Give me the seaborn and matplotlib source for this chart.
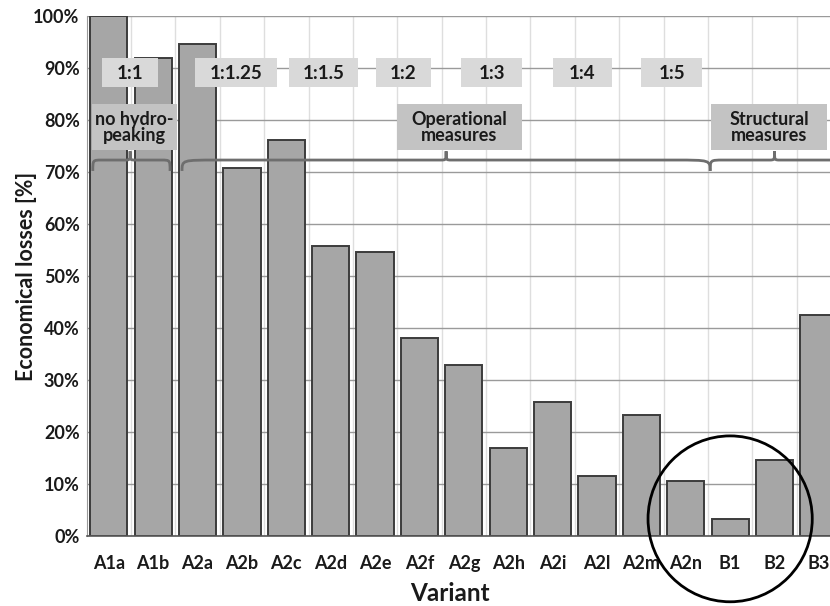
import numpy as np
import pandas as pd
import matplotlib
matplotlib.use("Agg")
import matplotlib.pyplot as plt
import seaborn as sns
from matplotlib.patches import Rectangle, Ellipse, PathPatch
from matplotlib.path import Path

# ---- data ----
variants = ["A1a", "A1b", "A2a", "A2b", "A2c", "A2d", "A2e", "A2f", "A2g",
            "A2h", "A2i", "A2l", "A2m", "A2n", "B1", "B2", "B3"]
losses = [100.0, 91.9, 94.6, 70.8, 76.2, 55.8, 54.6, 38.1, 32.9,
          16.9, 25.8, 11.6, 23.3, 10.6, 3.2, 14.6, 42.5]
yticks = [0, 10, 20, 30, 40, 50, 60, 70, 80, 90, 100]
ytick_labels = [f"{v}%" for v in yticks]

ratio_labels = ["1:1", "1:1.25", "1:1.5", "1:2", "1:3", "1:4", "1:5"]
ratio_centers = [0.48, 2.87, 4.83, 6.64, 8.63, 10.67, 12.68]
ratio_widths = [1.26, 1.85, 1.55, 1.24, 1.37, 1.33, 1.38]

group_labels = ["no hydro-\npeaking", "Operational\nmeasures", "Structural\nmeasures"]
group_box_x = [(-0.38, 1.54), (6.49, 9.31), (13.57, 16.18)]
brace_spans = [(-0.36, 1.38, 0.48, 0.2), (1.65, 13.55, 7.6, 0.8), (13.55, 16.6, 15.0, 0.3)]

FONT = ["Lato", "DejaVu Sans"]

df = pd.DataFrame({"Variant": variants, "Loss": losses})

sns.set_style("white")
plt.rcParams["font.family"] = FONT
plt.rcParams["font.weight"] = "bold"

fig = plt.figure(figsize=(8.3, 6.06), dpi=100)
ax = fig.add_axes([86.6 / 830, 70 / 606, 754.5 / 830, 520 / 606])

sns.barplot(data=df, x="Variant", y="Loss", color="#a6a6a6", saturation=1,
            edgecolor="#3c3c3c", linewidth=1.4, width=0.84, ax=ax, zorder=2)

ax.set_xlim(-0.5, len(variants) - 0.5)
ax.set_ylim(0, 100)
ax.set_yticks(yticks)
ax.set_yticklabels(ytick_labels, fontsize=13, fontweight="bold", color="#1a1a1a")
ax.set_xticks(range(len(variants)))
ax.set_xticklabels(variants, fontsize=13, fontweight="bold", color="#1a1a1a")
ax.set_xticks(np.arange(0.5, len(variants) - 0.5, 1), minor=True)
ax.tick_params(axis="x", which="major", length=0, pad=14)
ax.tick_params(axis="x", which="minor", length=3, color="#999999")
ax.tick_params(axis="y", length=0, pad=5)

ax.set_axisbelow(True)
ax.yaxis.grid(True, color="#9a9a9a", linewidth=1.0)
ax.xaxis.grid(True, which="minor", color="#dedede", linewidth=1.0)
ax.xaxis.grid(False, which="major")

for s in ["top", "right"]:
    ax.spines[s].set_visible(False)
ax.spines["left"].set_color("#999999")
ax.spines["bottom"].set_color("#555555")
ax.spines["bottom"].set_linewidth(1.2)

ax.set_xlabel("Variant", fontsize=17.5, fontweight="bold", color="#1a1a1a")
ax.set_ylabel("Economical losses [%]", fontsize=15.5, fontweight="bold", color="#1a1a1a")
ax.xaxis.set_label_coords((450 - 86.6) / 754.5, (536 - 582) / 520)
ax.yaxis.set_label_coords((37 - 86.6) / 754.5, 0.5)

# ratio boxes
for lab, cx, w in zip(ratio_labels, ratio_centers, ratio_widths):
    ax.add_patch(Rectangle((cx - w / 2, 86.3), w, 5.6, facecolor="#d9d9d9",
                           edgecolor="none", zorder=4, clip_on=False))
    ax.text(cx, 89.0, lab, ha="center", va="center", fontsize=13.5,
            fontweight="bold", color="#1a1a1a", zorder=5)

# group boxes
for lab, (x0, x1) in zip(group_labels, group_box_x):
    ax.add_patch(Rectangle((x0, 74.2), x1 - x0, 8.9, facecolor="#c3c3c3",
                           edgecolor="none", zorder=4, clip_on=False))
    ax.text((x0 + x1) / 2, 78.6, lab, ha="center", va="center", fontsize=13,
            fontweight="bold", color="#1a1a1a", zorder=5, linespacing=0.95)

# braces
yb, ym, yt = 70.2, 72.3, 74.0
for x0, x1, xm, r in brace_spans:
    tip = 0.12
    verts = [(x0, yb), (x0, ym), (x0, ym), (x0 + r, ym),
             (xm - tip, ym),
             (xm, ym), (xm, ym), (xm, yt),
             (xm, ym), (xm, ym), (xm + tip, ym),
             (x1 - r, ym),
             (x1, ym), (x1, ym), (x1, yb)]
    codes = [Path.MOVETO, Path.CURVE4, Path.CURVE4, Path.CURVE4,
             Path.LINETO,
             Path.CURVE4, Path.CURVE4, Path.CURVE4,
             Path.CURVE4, Path.CURVE4, Path.CURVE4,
             Path.LINETO,
             Path.CURVE4, Path.CURVE4, Path.CURVE4]
    ax.add_patch(PathPatch(Path(verts, codes), facecolor="none",
                           edgecolor="#6e6e6e", linewidth=2.0, zorder=6,
                           clip_on=False))

# circle around structural options
ci = variants.index("B1")
ax.add_patch(Ellipse((ci, 3.3), 3.70, 31.9, facecolor="none", edgecolor="black",
                     linewidth=2.0, zorder=7, clip_on=False))

fig.savefig("out.png", dpi=100)
